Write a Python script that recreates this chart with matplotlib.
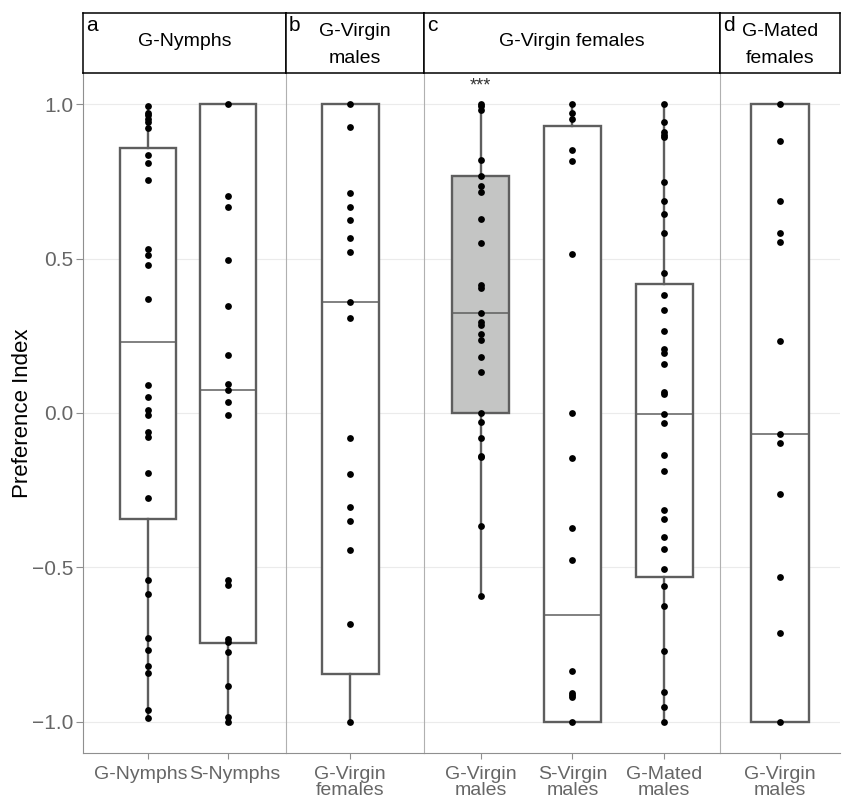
import matplotlib
matplotlib.use("Agg")
import matplotlib.pyplot as plt
import matplotlib.transforms as mtransforms
import numpy as np

plt.rcParams["font.family"] = ["Liberation Sans", "DejaVu Sans"]

W, H = 842, 801

# --- data ---------------------------------------------------------------
panel_letters = ["a", "b", "c", "d"]
panel_titles = ["G-Nymphs", "G-Virgin\nmales", "G-Virgin females", "G-Mated\nfemales"]
panel_groups = [
    ["G-Nymphs", "S-Nymphs"],
    ["G-Virgin\nfemales"],
    ["G-Virgin\nmales", "S-Virgin\nmales", "G-Mated\nmales"],
    ["G-Virgin\nmales"],
]

g_nymphs = [0.993, 0.973, 0.964, 0.953, 0.944, 0.922, 0.837, 0.811, 0.756, 0.532,
            0.512, 0.478, 0.369, 0.090, 0.053, 0.010, -0.006, -0.061, -0.077, -0.196,
            -0.275, -0.542, -0.585, -0.728, -0.769, -0.820, -0.842, -0.962, -0.988]
s_nymphs = [1.0, 0.702, 0.666, 0.494, 0.345, 0.188, 0.093, 0.075, 0.037, -0.006,
            -0.542, -0.558, -0.732, -0.742, -0.775, -0.886, -0.984, -1.0]
b_virgin_females = [1.0, 0.925, 0.713, 0.668, 0.625, 0.568, 0.523, 0.358, 0.309, -0.080,
                    -0.198, -0.304, -0.350, -0.443, -0.685, -1.0]
c_virgin_males = [1.0, 0.994, 0.981, 0.818, 0.769, 0.735, 0.715, 0.627, 0.549, 0.413,
                  0.404, 0.324, 0.296, 0.286, 0.255, 0.235, 0.182, 0.133, 0.001, -0.028,
                  -0.081, -0.140, -0.144, -0.365, -0.592]
c_s_virgin_males = [1.0, 0.971, 0.953, 0.852, 0.815, 0.514, 0.0, -0.146, -0.373, -0.477,
                    -0.835, -0.908, -0.915, -0.921, -1.0]
c_mated_males = [1.0, 0.944, 0.909, 0.902, 0.893, 0.747, 0.687, 0.645, 0.583, 0.453,
                 0.383, 0.333, 0.266, 0.206, 0.194, 0.160, 0.067, 0.061, -0.003, -0.031,
                 -0.135, -0.187, -0.314, -0.344, -0.401, -0.442, -0.505, -0.562, -0.627,
                 -0.772, -0.903, -0.951, -1.0]
d_virgin_males = [1.0, 0.881, 0.687, 0.584, 0.554, 0.232, -0.068, -0.097, -0.263, -0.533,
                  -0.713, -1.0]

panel_points = [
    [g_nymphs, s_nymphs],
    [b_virgin_females],
    [c_virgin_males, c_s_virgin_males, c_mated_males],
    [d_virgin_males],
]

# box stats per group: q1, median, q3, whisker low, whisker high
box_q1 = [[-0.342, -0.744], [-0.846], [0.0, -1.0, -0.532], [-1.0]]
box_med = [[0.229, 0.075], [0.358], [0.324, -0.656, -0.003], [-0.068]]
box_q3 = [[0.858, 1.0], [1.0], [0.769, 0.928, 0.419], [1.0]]
whisk_lo = [[-0.988, -1.0], [-1.0], [-0.592, -1.0, -1.0], [-1.0]]
whisk_hi = [[0.993, 1.0], [1.0], [1.0, 1.0, 1.0], [1.0]]
box_fill = [["white", "white"], ["white"], ["#c4c5c4", "white", "white"], ["white"]]

y_ticks = [-1.0, -0.5, 0.0, 0.5, 1.0]

# --- layout (pixels) ------------------------------------------------------
STRIP_TOP, PLOT_TOP, PLOT_BOTTOM = 12.7, 73.4, 752.5
panel_edges = [83, 286, 424, 720, 840]
panel_xlims = [(0.1875, 2.725), (0.304, 1.804), (0.38, 3.61), (0.348, 1.652)]
box_widths = [0.71, 0.62, 0.62, 0.62]
# the two nymph labels sit a little apart from their ticks in the original
label_nudge = [[-7, 7], [0], [0, 0, 0], [0]]

BOX_COL = "#5e5e5e"
AXIS_COL = "#8f8f8f"
SEP_COL = "#b0b0b0"
TICK_TXT = "#666666"
GRID_COL = "#ebebeb"


def rect(x0, x1, y0, y1):
    return [x0 / W, 1 - y1 / H, (x1 - x0) / W, (y1 - y0) / H]


fig = plt.figure(figsize=(W / 100, H / 100), dpi=100)

for i in range(4):
    x0, x1 = panel_edges[i], panel_edges[i + 1]
    ax = fig.add_axes(rect(x0, x1, PLOT_TOP, PLOT_BOTTOM))
    n = len(panel_groups[i])
    pos = np.arange(1, n + 1)

    stats = []
    for j in range(n):
        stats.append({
            "q1": box_q1[i][j], "med": box_med[i][j], "q3": box_q3[i][j],
            "whislo": whisk_lo[i][j], "whishi": whisk_hi[i][j], "fliers": [],
        })
    bp = ax.bxp(stats, positions=pos, widths=box_widths[i], showcaps=False,
                showfliers=False, patch_artist=True,
                boxprops=dict(edgecolor=BOX_COL, linewidth=1.7),
                whiskerprops=dict(color=BOX_COL, linewidth=1.7),
                medianprops=dict(color=BOX_COL, linewidth=1.1))
    for patch, fc in zip(bp["boxes"], box_fill[i]):
        patch.set_facecolor(fc)

    for j, vals in enumerate(panel_points[i]):
        ax.scatter(np.full(len(vals), pos[j]), vals, s=24, color="black",
                   linewidths=0, zorder=4)

    ax.set_xlim(*panel_xlims[i])
    ax.set_ylim(-1.1, 1.1)
    ax.set_yticks(y_ticks)
    ax.grid(axis="y", color=GRID_COL, linewidth=0.8)
    ax.set_axisbelow(True)
    ax.set_xticks(pos)
    ax.set_xticklabels(panel_groups[i], fontsize=14, color=TICK_TXT, linespacing=0.92)
    ax.tick_params(axis="x", length=4, color=AXIS_COL, pad=6)
    for lab, dx in zip(ax.get_xticklabels(), label_nudge[i]):
        if dx:
            lab.set_transform(lab.get_transform() +
                              mtransforms.ScaledTranslation(dx / 100, 0, fig.dpi_scale_trans))

    ax.spines["top"].set_visible(False)
    ax.spines["right"].set_visible(False)
    ax.spines["bottom"].set_color(AXIS_COL)
    if i == 0:
        ax.spines["left"].set_color(AXIS_COL)
        ax.set_yticklabels([f"{t:.1f}".replace("-", "\u2212") for t in y_ticks],
                           fontsize=15, color=TICK_TXT)
        ax.tick_params(axis="y", length=5, color=AXIS_COL, pad=2)
        ax.set_ylabel("Preference Index", fontsize=16, labelpad=-1)
    else:
        ax.spines["left"].set_color(SEP_COL)
        ax.tick_params(axis="y", length=0, labelleft=False)

    if i == 2:
        ax.text(1, 1.06, "***", ha="center", va="center", fontsize=13, color="#333333")

    # strip
    sx = fig.add_axes(rect(x0, x1, STRIP_TOP, PLOT_TOP))
    sx.set_xticks([])
    sx.set_yticks([])
    for sp in sx.spines.values():
        sp.set_color("black")
        sp.set_linewidth(1.1)
    title_y = 0.47 if "\n" in panel_titles[i] else 0.52
    sx.text(0.5, title_y, panel_titles[i], ha="center", va="center", fontsize=14,
            linespacing=1.75, transform=sx.transAxes)
    sx.annotate(panel_letters[i], xy=(0, 1), xycoords="axes fraction",
                xytext=(3, -3), textcoords="offset pixels", ha="left", va="top",
                fontsize=15)

fig.savefig("out.png", dpi=100)
